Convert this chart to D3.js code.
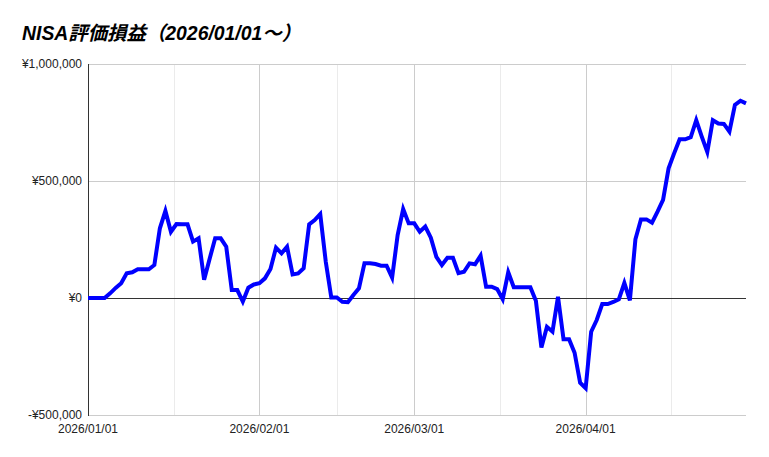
<!DOCTYPE html>
<html>
<head>
<meta charset="utf-8">
<style>
body {margin: 0; background: #fff;}
text {font-family: Arial, "Liberation Sans", sans-serif;}
.title {font-weight: bold; font-style: italic; font-family: Arial, "Liberation Sans", "Noto Sans CJK JP", sans-serif;}
</style>
<script src="https://d3js.org/d3.v7.min.js"></script>
</head>
<body>
<svg id="vis" width="769" height="457"></svg>
<script>
// daily values, yen, one array per month (2026)
var janValues = [0, 0, 0, 0, 20000, 43000, 63000, 106000, 110000, 123000,
  123000, 123000, 141000, 298000, 372000, 283000, 316000, 315000, 315000, 241000,
  255000, 78000, 168000, 255000, 255000, 219000, 34000, 34000, -15000, 44000, 58000];
var febValues = [63000, 84000, 124000, 215000, 191000, 219000, 101000, 105000, 127000, 315000,
  333000, 359000, 155000, 2000, 2000, -16000, -18000, 13000, 41000, 148000,
  148000, 145000, 138000, 138000, 87000, 269000, 380000, 319000];
var marValues = [319000, 283000, 305000, 258000, 176000, 141000, 172000, 172000, 106000, 112000,
  148000, 144000, 181000, 48000, 48000, 38000, -5000, 110000, 46000, 46000,
  46000, 46000, -12000, -212000, -123000, -144000, 5000, -176000, -176000, -234000, -362000];
var aprValues = [-385000, -144000, -94000, -26000, -26000, -17000, -6000, 64000, -10000, 251000,
  336000, 336000, 322000, 369000, 419000, 554000, 618000, 678000, 678000, 687000,
  760000, 690000, 624000, 760000, 746000, 744000, 711000, 825000, 843000, 832000];

var startDate = new Date(2026, 0, 1);
var endDate = new Date(2026, 3, 30);
var xTickLabels = ["2026/01/01", "2026/02/01", "2026/03/01", "2026/04/01"];
var xMinorTicks = ["2026-01-16T12:00", "2026-02-15T00:00", "2026-03-16T12:00", "2026-04-16T12:00"];
var yTicks = [-500000, 0, 500000, 1000000];

var allValues = janValues.concat(febValues, marValues, aprValues);
var data = allValues.map(function(v, i) {
  return {date: d3.timeDay.offset(startDate, i), value: v};
});

var svg = d3.select("#vis");
var plotLeft = 88, plotRight = 746, plotTop = 64, plotBottom = 415;

var x = d3.scaleTime().domain([startDate, endDate]).range([plotLeft, plotRight]);
var y = d3.scaleLinear().domain([-500000, 1000000]).range([plotBottom, plotTop]);

var parseLabel = d3.timeParse("%Y/%m/%d");
var parseMinor = d3.timeParse("%Y-%m-%dT%H:%M");

// minor vertical grid
svg.append("g").selectAll("line")
  .data(xMinorTicks.map(function(s) { return parseMinor(s); }))
  .enter().append("line")
    .attr("x1", function(d) { return Math.round(x(d)) + 0.5; })
    .attr("x2", function(d) { return Math.round(x(d)) + 0.5; })
    .attr("y1", plotTop).attr("y2", plotBottom)
    .style("stroke", "#ebebeb");

// major vertical grid
svg.append("g").selectAll("line")
  .data(xTickLabels.map(function(s) { return parseLabel(s); }))
  .enter().append("line")
    .attr("x1", function(d) { return Math.round(x(d)) + 0.5; })
    .attr("x2", function(d) { return Math.round(x(d)) + 0.5; })
    .attr("y1", plotTop).attr("y2", plotBottom)
    .style("stroke", "#cccccc");

// horizontal grid
svg.append("g").selectAll("line")
  .data(yTicks)
  .enter().append("line")
    .attr("x1", plotLeft).attr("x2", plotRight)
    .attr("y1", function(d) { return Math.round(y(d)) + 0.5; })
    .attr("y2", function(d) { return Math.round(y(d)) + 0.5; })
    .style("stroke", function(d) { return d === 0 ? "#333333" : "#cccccc"; });

// left axis line
svg.append("line")
  .attr("x1", plotLeft + 0.5).attr("x2", plotLeft + 0.5)
  .attr("y1", plotTop).attr("y2", plotBottom + 1)
  .style("stroke", "#333333");

// y labels
var fmt = d3.format(",");
svg.append("g").selectAll("text")
  .data(yTicks)
  .enter().append("text")
    .attr("x", plotLeft - 6)
    .attr("y", function(d) { return y(d) + 4; })
    .attr("text-anchor", "end")
    .style("font-size", "12px")
    .style("fill", "#222")
    .text(function(d) { return (d < 0 ? "-" : "") + "¥" + fmt(Math.abs(d)); });

// x labels
svg.append("g").selectAll("text")
  .data(xTickLabels)
  .enter().append("text")
    .attr("x", function(d) { return x(parseLabel(d)); })
    .attr("y", plotBottom + 18)
    .attr("text-anchor", "middle")
    .style("font-size", "12px")
    .style("fill", "#222")
    .text(function(d) { return d; });

// the line
var line = d3.line()
  .x(function(d) { return x(d.date); })
  .y(function(d) { return y(d.value); });

svg.append("path")
  .datum(data)
  .attr("d", line)
  .style("fill", "none")
  .style("stroke", "#0000ff")
  .style("stroke-width", 4);

// title
svg.append("text")
  .attr("class", "title")
  .attr("x", 22)
  .attr("y", 40)
  .style("font-size", "19.4px")
  .style("fill", "#000")
  .text("NISA評価損益（2026/01/01～）");
</script>
</body>
</html>
